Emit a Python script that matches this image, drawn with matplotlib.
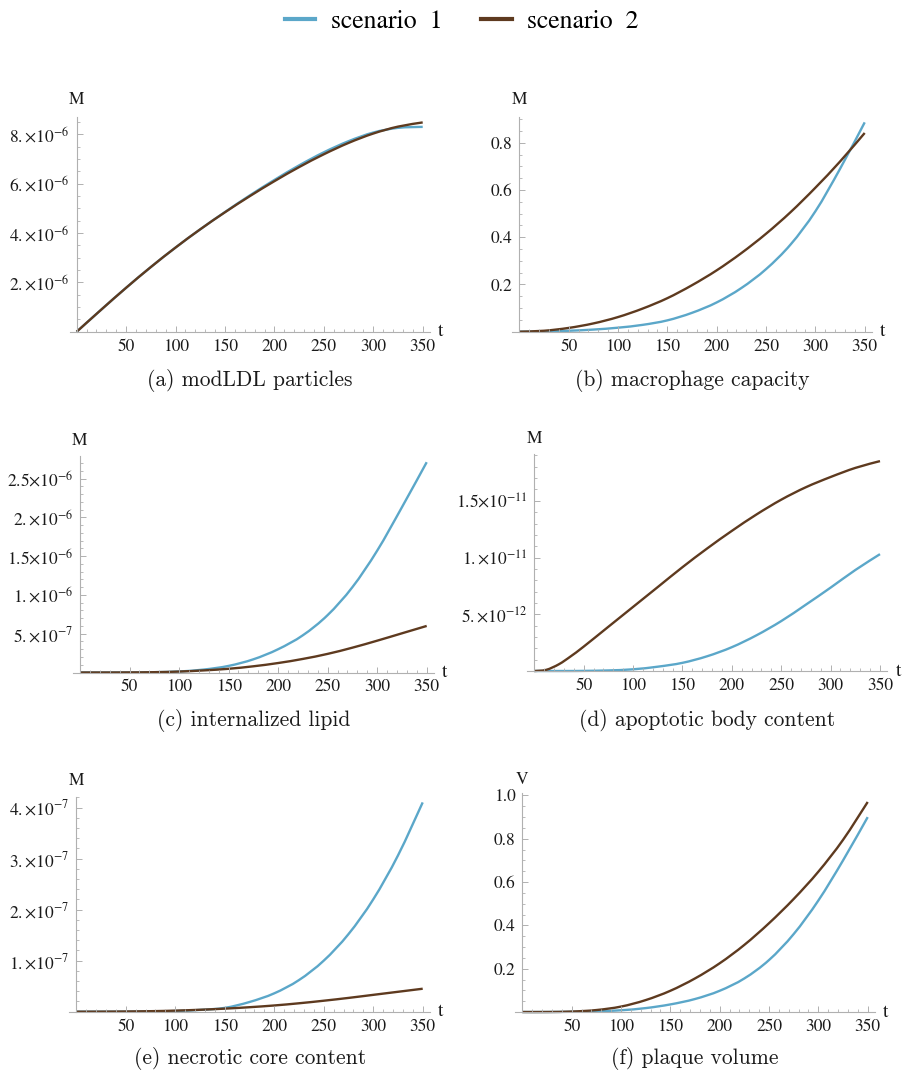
import numpy as np
import matplotlib
matplotlib.use("Agg")
import matplotlib.pyplot as plt
from matplotlib.lines import Line2D
from matplotlib.path import Path
from matplotlib.patches import PathPatch
from matplotlib.ticker import FixedLocator

plt.rcParams['font.family'] = 'STIXGeneral'
plt.rcParams['mathtext.fontset'] = 'stix'

BLUE = '#5ba7c9'
BROWN = '#5e3a1f'
AXIS = '#b0b0b0'
INK = '#1a1a1a'

# time grid (days)
t = [0, 25, 50, 75, 100, 125, 150, 175, 200, 225, 250, 275, 300, 325, 350]
t_apop = [0, 12, 25, 37, 50, 75, 100, 125, 150, 175, 200, 225, 250, 275, 300, 325, 350]

# (a) modLDL particles
modldl_1 = np.array([0, 0.90, 1.78, 2.62, 3.41, 4.15, 4.85, 5.52, 6.15, 6.74, 7.27, 7.72, 8.07, 8.26, 8.30]) * 1e-6
modldl_2 = np.array([0, 0.90, 1.78, 2.62, 3.41, 4.15, 4.84, 5.49, 6.10, 6.67, 7.19, 7.65, 8.03, 8.31, 8.48]) * 1e-6

# (b) macrophage capacity
macro_1 = [0, 0.001, 0.004, 0.009, 0.017, 0.029, 0.048, 0.080, 0.124, 0.185, 0.265, 0.370, 0.510, 0.690, 0.887]
macro_2 = [0, 0.004, 0.016, 0.035, 0.062, 0.098, 0.142, 0.197, 0.260, 0.333, 0.415, 0.507, 0.610, 0.721, 0.842]

# (c) internalized lipid
lipid_1 = np.array([0, 0, 0.001, 0.004, 0.013, 0.038, 0.085, 0.17, 0.30, 0.48, 0.74, 1.10, 1.57, 2.13, 2.71]) * 1e-6
lipid_2 = np.array([0, 0, 0.001, 0.004, 0.012, 0.027, 0.048, 0.080, 0.122, 0.175, 0.24, 0.32, 0.41, 0.505, 0.60]) * 1e-6

# (d) apoptotic body content
apop_1 = np.array([0, 0, 0, 0, 0.01, 0.05, 0.15, 0.38, 0.72, 1.3, 2.1, 3.15, 4.4, 5.85, 7.35, 8.9, 10.3]) * 1e-12
apop_2 = np.array([0, 0.1, 0.6, 1.3, 2.15, 3.9, 5.65, 7.4, 9.15, 10.8, 12.35, 13.8, 15.1, 16.2, 17.1, 17.9, 18.5]) * 1e-12

# (e) necrotic core content
necro_1 = np.array([0, 0, 0.001, 0.005, 0.013, 0.035, 0.075, 0.19, 0.36, 0.62, 1.0, 1.52, 2.2, 3.06, 4.1]) * 1e-7
necro_2 = np.array([0, 0.001, 0.004, 0.01, 0.021, 0.038, 0.06, 0.088, 0.122, 0.165, 0.215, 0.27, 0.33, 0.39, 0.45]) * 1e-7

# (f) plaque volume
vol_1 = [0, 0, 0.001, 0.003, 0.008, 0.018, 0.035, 0.060, 0.098, 0.155, 0.24, 0.36, 0.515, 0.70, 0.90]
vol_2 = [0, 0, 0.002, 0.009, 0.025, 0.055, 0.098, 0.155, 0.225, 0.31, 0.41, 0.522, 0.648, 0.795, 0.97]

captions = ['(a) modLDL particles', '(b) macrophage capacity', '(c) internalized lipid',
            '(d) apoptotic body content', '(e) necrotic core content', '(f) plaque volume']
ylabels = ['M', 'M', 'M', 'M', 'M', 'V']


def sci(m, e):
    return r'$%s{\times}10^{%d}$' % (m, e)


yticks = [
    ([2e-6, 4e-6, 6e-6, 8e-6], [sci('2.', -6), sci('4.', -6), sci('6.', -6), sci('8.', -6)], 0.5e-6),
    ([0.2, 0.4, 0.6, 0.8], ['0.2', '0.4', '0.6', '0.8'], 0.05),
    ([5e-7, 1e-6, 1.5e-6, 2e-6, 2.5e-6],
     [sci('5.', -7), sci('1.', -6), sci('1.5', -6), sci('2.', -6), sci('2.5', -6)], 1e-7),
    ([5e-12, 1e-11, 1.5e-11], [sci('5.', -12), sci('1.', -11), sci('1.5', -11)], 1e-12),
    ([1e-7, 2e-7, 3e-7, 4e-7], [sci('1.', -7), sci('2.', -7), sci('3.', -7), sci('4.', -7)], 0.2e-7),
    ([0.2, 0.4, 0.6, 0.8, 1.0], ['0.2', '0.4', '0.6', '0.8', '1.0'], 0.05),
]

series = [
    (t, modldl_1, modldl_2),
    (t, macro_1, macro_2),
    (t, lipid_1, lipid_2),
    (t_apop, apop_1, apop_2),
    (t, necro_1, necro_2),
    (t, vol_1, vol_2),
]

# pixel layout: origin x, x at t=350, origin y, top of y axis, y value at top
layout = [
    (76.7, 422.7, 331.7, 117.0, 8.7e-6),
    (519.3, 864.7, 331.7, 116.7, 0.911),
    (80.0, 426.7, 672.5, 456.0, 2.79e-6),
    (534.3, 880.0, 671.0, 454.3, 1.91e-11),
    (76.3, 422.7, 1011.7, 797.3, 4.2e-7),
    (522.3, 867.7, 1012.0, 793.3, 1.01),
]
label_gap = [17, 17, 15, 15, 16, 13]
cap_y = [380, 380, 720, 720, 1058, 1058]


def smooth_curve(ax, x, y, color):
    # cubic curve through the points (Catmull-Rom tangents)
    x = np.asarray(x, float)
    y = np.asarray(y, float)
    n = len(x)
    verts = [(x[0], y[0])]
    codes = [Path.MOVETO]
    for k in range(n - 1):
        a = max(k - 1, 0)
        b = min(k + 2, n - 1)
        c1 = (x[k] + (x[k + 1] - x[a]) / 6, y[k] + (y[k + 1] - y[a]) / 6)
        c2 = (x[k + 1] - (x[b] - x[k]) / 6, y[k + 1] - (y[b] - y[k]) / 6)
        verts += [c1, c2, (x[k + 1], y[k + 1])]
        codes += [Path.CURVE4] * 3
    ax.add_patch(PathPatch(Path(verts, codes), fill=False, edgecolor=color, lw=1.7,
                           clip_on=False, capstyle='butt'))


W, H = 905, 1072
fig = plt.figure(figsize=(W / 100, H / 100), dpi=100)
xlo, xhi = -7, 357.5

for i in range(6):
    x0, x350, y0, ytop, ymax = layout[i]
    sx = (x350 - x0) / 350.0
    sy = ymax / (y0 - ytop)
    left = x0 + xlo * sx
    right = x0 + xhi * sx
    ax = fig.add_axes([left / W, 1 - y0 / H, (right - left) / W, (y0 - ytop) / H])
    ax.set_xlim(xlo, xhi)
    ax.set_ylim(0, ymax)
    ax.patch.set_visible(False)

    tt, s1, s2 = series[i]
    smooth_curve(ax, tt, s1, BLUE)
    smooth_curve(ax, tt, s2, BROWN)

    for side in ['top', 'right']:
        ax.spines[side].set_visible(False)
    ax.spines['left'].set_position(('data', 0))
    for side in ['left', 'bottom']:
        ax.spines[side].set_color(AXIS)
        ax.spines[side].set_linewidth(0.8)

    ax.set_xticks([50, 100, 150, 200, 250, 300, 350])
    ax.xaxis.set_minor_locator(FixedLocator([v for v in range(10, 351, 10) if v % 50]))
    vals, labs, minor = yticks[i]
    ax.set_yticks(vals, labs)
    n = int(round(ymax / minor))
    ax.yaxis.set_minor_locator(FixedLocator([k * minor for k in range(1, n + 1)]))

    ax.tick_params(which='major', direction='in', length=4.5, width=0.7, color=AXIS,
                   labelsize=12.5, labelcolor=INK, pad=5)
    ax.tick_params(which='minor', direction='in', length=2.5, width=0.6, color=AXIS)

    # axis names at the ends of the axes
    ax.text(0, ymax + label_gap[i] * sy, ylabels[i], ha='center', va='center',
            fontsize=12.5, color=INK)
    ax.text(xhi + 8 / sx, 0, 't', ha='left', va='center', fontsize=14, color=INK)

    fig.text(((left + right) / 2) / W, 1 - cap_y[i] / H, captions[i], ha='center',
             va='center', fontsize=15.5, family='cmr10', color=INK)

handles = [Line2D([], [], color=BLUE, lw=3), Line2D([], [], color=BROWN, lw=3)]
fig.legend(handles, ['scenario  1', 'scenario  2'], loc='center', ncol=2,
           bbox_to_anchor=(0.51, 1 - 22 / H), frameon=False, fontsize=18.5,
           handlelength=1.2, handletextpad=0.6, columnspacing=1.5)

fig.savefig('out.png', dpi=100)
